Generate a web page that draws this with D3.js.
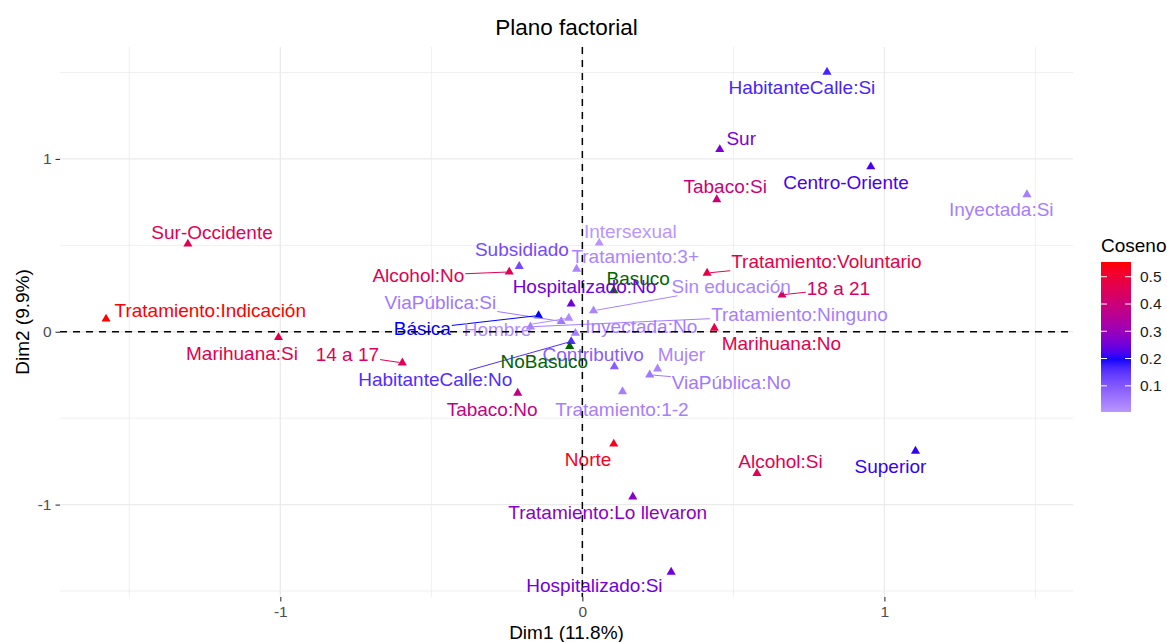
<!DOCTYPE html>
<html>
<head>
<meta charset="utf-8">
<script src="https://cdn.jsdelivr.net/npm/d3@7"></script>
<style>
  body { margin: 0; background: #fff; }
  svg { display: block; font-family: "Liberation Sans", Arial, Helvetica, sans-serif; }
</style>
</head>
<body>
<div id="chart"></div>
<script>
// categories of the MCA and their coordinates on the first factorial plane
const categories = [
  "HabitanteCalle:Si", "Sur", "Centro-Oriente", "Tabaco:Si", "Inyectada:Si", "Sur-Occidente",
  "Intersexual", "Subsidiado", "Tratamiento:3+", "Alcohol:No", "Tratamiento:Voluntario", "Basuco",
  "Hospitalizado:No", "Sin educación", "18 a 21", "ViaPública:Si", "Tratamiento:Ninguno", "Tratamiento:Indicación",
  "Básica", "Hombre", "Inyectada:No", "Marihuana:No", "Marihuana:Si", "14 a 17",
  "Contributivo", "Mujer", "HabitanteCalle:No", "ViaPública:No", "Tabaco:No", "Tratamiento:1-2",
  "Norte", "Alcohol:Si", "Superior", "Tratamiento:Lo llevaron", "Hospitalizado:Si", "NoBasuco"
];
const dim1 = [
  0.810, 0.455, 0.955, 0.445, 1.472, -1.306,
  0.056, -0.209, -0.019, -0.242, 0.413, 0.104,
  -0.037, 0.037, 0.661, -0.070, -0.172, -1.577,
  -0.145, -0.045, -0.023, 0.437, -1.006, -0.596,
  0.106, 0.249, -0.037, 0.223, -0.214, 0.133,
  0.104, 0.578, 1.103, 0.167, 0.294, -0.042
];
const dim2 = [
  1.503, 1.055, 0.955, 0.765, 0.794, 0.508,
  0.514, 0.379, 0.363, 0.346, 0.340, 0.238,
  0.162, 0.122, 0.214, 0.060, 0.029, 0.074,
  0.094, 0.079, -0.008, 0.021, -0.033, -0.180,
  -0.201, -0.214, -0.056, -0.249, -0.355, -0.346,
  -0.649, -0.819, -0.690, -0.955, -1.390, -0.085
];
// quality of representation (null = supplementary category)
const cos2 = [
  0.17, 0.26, 0.22, 0.40, 0.04, 0.46,
  0.004, 0.12, 0.03, 0.46, 0.48, null,
  0.25, 0.03, 0.44, 0.05, 0.04, 0.554,
  0.20, 0.02, 0.04, 0.47, 0.47, 0.45,
  0.09, 0.03, 0.16, 0.05, 0.38, 0.04,
  0.53, 0.46, 0.21, 0.28, 0.25, null
];
// repelled label anchors, in the same Dim1/Dim2 units
const labelDim1 = [
  0.727, 0.526, 0.873, 0.473, 1.387, -1.226,
  0.159, -0.200, 0.175, -0.543, 0.808, 0.185,
  0.007, 0.493, 0.848, -0.470, 0.719, -1.232,
  -0.530, -0.281, 0.195, 0.659, -1.127, -0.778,
  0.036, 0.328, -0.487, 0.493, -0.299, 0.131,
  0.019, 0.656, 1.020, 0.084, 0.040, -0.126
];
const labelDim2 = [
  1.416, 1.117, 0.866, 0.842, 0.707, 0.578,
  0.581, 0.475, 0.435, 0.325, 0.408, 0.311,
  0.263, 0.263, 0.249, 0.168, 0.099, 0.122,
  0.017, 0.012, 0.029, -0.066, -0.123, -0.133,
  -0.133, -0.133, -0.278, -0.290, -0.448, -0.448,
  -0.738, -0.752, -0.781, -1.045, -1.467, -0.172
];
const xTicks = [-1, 0, 1];
const yTicks = [-1, 0, 1];
const legendTicks = [0.1, 0.2, 0.3, 0.4, 0.5];

const width = 1167;
const height = 642;
const margin = { top: 47, right: 94, bottom: 45, left: 60 };
const fontSize = 19;
const suppColor = "#006400";

const rows = categories.map((name, i) => ({
  name, d1: dim1[i], d2: dim2[i], cos2: cos2[i], l1: labelDim1[i], l2: labelDim2[i]
}));

// ggplot-like 5% expansion of the data range
function expand(ext) {
  const pad = (ext[1] - ext[0]) * 0.05;
  return [ext[0] - pad, ext[1] + pad];
}

const x = d3.scaleLinear()
  .domain(expand(d3.extent(dim1)))
  .range([margin.left, width - margin.right]);
const y = d3.scaleLinear()
  .domain(expand(d3.extent(dim2)))
  .range([height - margin.bottom, margin.top]);

// gradient2: white -> blue (midpoint 0.2) -> red
const cosVals = cos2.filter(v => v != null);
const cosMin = d3.min(cosVals), cosMax = d3.max(cosVals);
const mid = 0.2;
const colorScale = d3.scaleLinear()
  .domain([mid - (cosMax - mid), mid, cosMax])
  .range(["#ffffff", "#0000ff", "#ff0000"])
  .interpolate(d3.interpolateLab);
const colorOf = d => d.cos2 == null ? suppColor : colorScale(d.cos2);

const svg = d3.select("#chart").append("svg")
  .attr("width", width)
  .attr("height", height);

// grid
const x0 = x.range()[0], x1 = x.range()[1];
const y0 = y.range()[1], y1 = y.range()[0];
const minorX = d3.range(-1.5, 2, 1).filter(v => v > x.domain()[0] && v < x.domain()[1]);
const minorY = d3.range(-1.5, 2, 1).filter(v => v > y.domain()[0] && v < y.domain()[1]);

const grid = svg.append("g").attr("stroke", "#ebebeb");
grid.selectAll(".mx").data(minorX).enter().append("line")
  .attr("x1", d => x(d)).attr("x2", d => x(d)).attr("y1", y0).attr("y2", y1).attr("stroke-width", 0.8);
grid.selectAll(".my").data(minorY).enter().append("line")
  .attr("y1", d => y(d)).attr("y2", d => y(d)).attr("x1", x0).attr("x2", x1).attr("stroke-width", 0.8);
grid.selectAll(".gx").data(xTicks).enter().append("line")
  .attr("x1", d => x(d)).attr("x2", d => x(d)).attr("y1", y0).attr("y2", y1).attr("stroke-width", 1.3);
grid.selectAll(".gy").data(yTicks).enter().append("line")
  .attr("y1", d => y(d)).attr("y2", d => y(d)).attr("x1", x0).attr("x2", x1).attr("stroke-width", 1.3);

// axes (plain hyphen for negatives, as in R)
const tickFmt = d => String(d);
const xAxis = svg.append("g")
  .attr("transform", `translate(0,${y1})`)
  .call(d3.axisBottom(x).tickValues(xTicks).tickFormat(tickFmt).tickSize(4.5).tickPadding(4));
const yAxis = svg.append("g")
  .attr("transform", `translate(${x0},0)`)
  .call(d3.axisLeft(y).tickValues(yTicks).tickFormat(tickFmt).tickSize(4.5).tickPadding(4));
[xAxis, yAxis].forEach(a => {
  a.select(".domain").remove();
  a.selectAll(".tick line").attr("stroke", "#333333").attr("stroke-width", 1.1);
  a.selectAll(".tick text").attr("fill", "#4d4d4d").style("font-size", "15.5px")
    .style("font-family", "'Liberation Sans', Arial, sans-serif");
});

// points
svg.append("g").selectAll("path").data(rows).enter().append("path")
  .attr("d", d3.symbol(d3.symbolTriangle, 36))
  .attr("transform", d => `translate(${x(d.d1)},${y(d.d2)})`)
  .attr("fill", colorOf);

// labels and their segments
const segG = svg.append("g");
const labG = svg.append("g");
labG.selectAll("text").data(rows).enter().append("text")
  .attr("x", d => x(d.l1))
  .attr("y", d => y(d.l2))
  .attr("dy", "0.35em")
  .attr("text-anchor", "middle")
  .style("font-size", fontSize + "px")
  .attr("fill", colorOf)
  .text(d => d.name)
  .each(function(d) {
    const hw = this.getComputedTextLength() / 2;
    const hh = fontSize * 0.5;
    const cx = x(d.l1), cy = y(d.l2);
    const px = x(d.d1), py = y(d.d2);
    const dx = px - cx, dy = py - cy;
    const len = Math.hypot(dx, dy);
    const exitT = (w, h) => Math.min(dx === 0 ? Infinity : w / Math.abs(dx), dy === 0 ? Infinity : h / Math.abs(dy));
    const tPad = exitT(hw + 5, hh + 5);
    if (tPad >= 1 || (1 - tPad) * len < 10) return;
    const t0 = exitT(hw + 1, hh);
    const t1 = 1 - 3 / len;
    segG.append("line")
      .attr("x1", cx + dx * t0).attr("y1", cy + dy * t0)
      .attr("x2", cx + dx * t1).attr("y2", cy + dy * t1)
      .attr("stroke", colorOf(d))
      .attr("stroke-width", 1);
  });

// reference lines at the origin
svg.append("line")
  .attr("x1", x0).attr("x2", x1).attr("y1", y(0)).attr("y2", y(0))
  .attr("stroke", "#000").attr("stroke-width", 1.5).attr("stroke-dasharray", "7,6");
svg.append("line")
  .attr("x1", x(0)).attr("x2", x(0)).attr("y1", y0).attr("y2", y1)
  .attr("stroke", "#000").attr("stroke-width", 1.5).attr("stroke-dasharray", "7,6");

// titles
svg.append("text")
  .attr("x", (x0 + x1) / 2).attr("y", 35)
  .attr("text-anchor", "middle")
  .style("font-size", "22.5px")
  .text("Plano factorial");
svg.append("text")
  .attr("x", (x0 + x1) / 2).attr("y", 639)
  .attr("text-anchor", "middle")
  .style("font-size", "19px")
  .text("Dim1 (11.8%)");
svg.append("text")
  .attr("transform", `translate(29,${(y0 + y1) / 2}) rotate(-90)`)
  .attr("text-anchor", "middle")
  .style("font-size", "19px")
  .text("Dim2 (9.9%)");

// colour bar legend
const barX = 1101, barW = 30, barTop = 262, barH = 150;
const legY = d3.scaleLinear().domain([cosMin, cosMax]).range([barTop + barH, barTop]);
const grad = svg.append("defs").append("linearGradient")
  .attr("id", "cosGrad").attr("x1", 0).attr("y1", 1).attr("x2", 0).attr("y2", 0);
grad.selectAll("stop").data(d3.range(0, 1.0001, 0.05)).enter().append("stop")
  .attr("offset", d => d)
  .attr("stop-color", d => colorScale(cosMin + d * (cosMax - cosMin)));

const legend = svg.append("g");
legend.append("text")
  .attr("x", barX).attr("y", 252)
  .style("font-size", "19px")
  .text("Coseno");
legend.append("rect")
  .attr("x", barX).attr("y", barTop).attr("width", barW).attr("height", barH)
  .attr("fill", "url(#cosGrad)");
legendTicks.forEach(v => {
  legend.append("line").attr("x1", barX).attr("x2", barX + 6).attr("y1", legY(v)).attr("y2", legY(v))
    .attr("stroke", "#fff").attr("stroke-width", 1);
  legend.append("line").attr("x1", barX + barW - 6).attr("x2", barX + barW).attr("y1", legY(v)).attr("y2", legY(v))
    .attr("stroke", "#fff").attr("stroke-width", 1);
});
legend.selectAll(".lab").data(legendTicks).enter().append("text")
  .attr("x", barX + barW + 9)
  .attr("y", d => legY(d))
  .attr("dy", "0.35em")
  .style("font-size", "15.5px")
  .attr("fill", "#1a1a1a")
  .text(d => d3.format(".1f")(d));
</script>
</body>
</html>
